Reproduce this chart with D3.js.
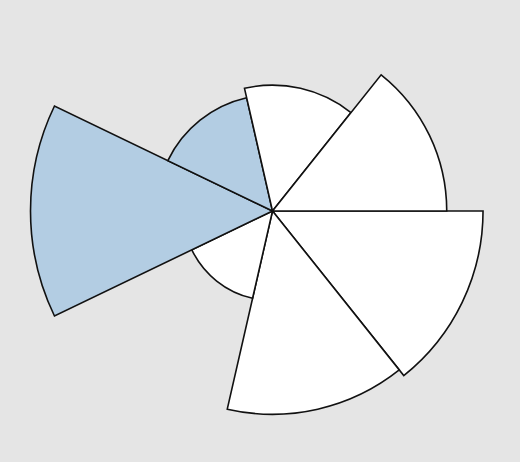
<!DOCTYPE html>
<html>
<head>
<meta charset="utf-8">
<script src="https://cdn.jsdelivr.net/npm/d3@7"></script>
<style>
  html, body { margin: 0; padding: 0; background: #e5e5e5; }
  svg { display: block; }
</style>
</head>
<body>
<script>
// Data: sectors listed clockwise starting at 3 o'clock
const categories = ["A", "B", "C", "D", "E", "F", "G"];
const values = [87, 84, 37, 100, 48, 52, 72];
const highlighted = ["D", "E"];
const maxValue = 100;

const width = 520, height = 462;
const cx = 272.5, cy = 211;
const maxRadius = 242;

const svg = d3.select("body").append("svg")
  .attr("width", width).attr("height", height);

svg.append("rect").attr("width", width).attr("height", height).attr("fill", "#e5e5e5");

const angle = d3.scaleBand()
  .domain(categories)
  .range([Math.PI / 2, Math.PI / 2 + 2 * Math.PI])
  .paddingInner(0).paddingOuter(0);

const radius = d3.scaleLinear().domain([0, maxValue]).range([0, maxRadius]);

const arc = d3.arc()
  .innerRadius(0)
  .outerRadius(d => radius(d.value))
  .startAngle(d => angle(d.cat))
  .endAngle(d => angle(d.cat) + angle.bandwidth());

const data = categories.map((c, i) => ({ cat: c, value: values[i] }));

svg.append("g")
  .attr("transform", `translate(${cx},${cy})`)
  .selectAll("path")
  .data(data)
  .join("path")
  .attr("d", arc)
  .attr("fill", d => highlighted.includes(d.cat) ? "#b3cde3" : "#ffffff")
  .attr("stroke", "#111")
  .attr("stroke-width", 1.6)
  .attr("stroke-linejoin", "miter");
</script>
</body>
</html>
